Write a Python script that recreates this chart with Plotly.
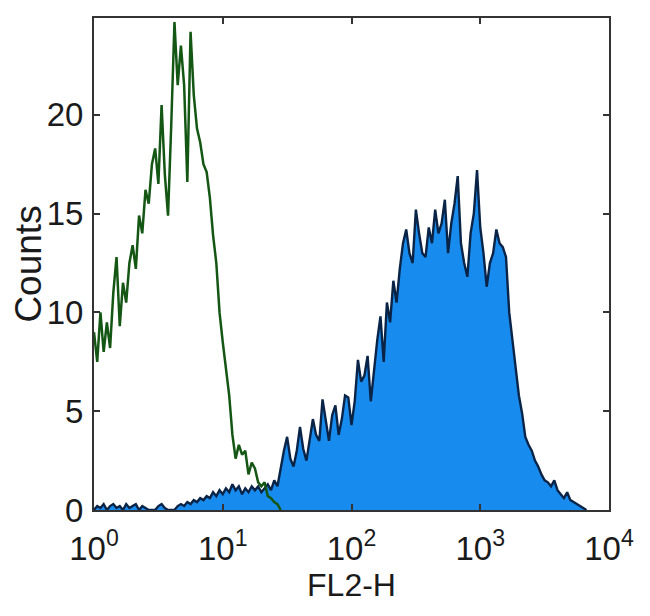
import numpy as np
import plotly.graph_objects as go

# Channel grid: log10(FL2-H) bin positions, 0.025 decade per channel
bin_step = 0.025

# Isotype / control histogram (green, unfilled)
green_counts = [
    9, 7.5, 10, 8, 9.5, 8.2, 11, 12.8, 9.3, 11.5,
    10.5, 12.5, 13.4, 12.2, 14.9, 14, 16.2, 15.5, 17.5, 18.3,
    16.5, 20.5, 17, 14.9, 19.5, 24.7, 21.5, 23.5, 21.5, 16.6,
    24.2, 21, 19.3, 18.6, 17.5, 17.1, 15.8, 13.9, 12.5, 10,
    8.5, 7.2, 5.8, 3.8, 2.6, 3.3, 2.8, 3.0, 1.8, 2.4,
    2.1, 1.4, 1.2, 1.4, 0.7, 0.6, 0.4, 0.3, 0,
]

# Stained sample histogram (blue, filled)
blue_counts = [
    0, 0.2, 0.1, 0.3, 0, 0.2, 0.3, 0.1, 0.2, 0,
    0.3, 0.1, 0.2, 0.3, 0, 0.2, 0.1, 0, 0, 0,
    0.2, 0.3, 0.1, 0, 0, 0, 0.2, 0.3, 0.2, 0.4,
    0.3, 0.5, 0.4, 0.6, 0.5, 0.7, 0.6, 0.9, 0.7, 1.0,
    0.8, 1.1, 0.9, 1.3, 1.0, 1.2, 0.8, 1.1, 0.9, 1.2,
    1.0, 1.2, 0.9, 1.1, 1.3, 1.0, 1.5, 1.2, 2.2, 3.0,
    3.7, 2.6, 2.2, 3.0, 4.2, 3.1, 2.5, 3.6, 4.6, 3.8,
    3.5, 5.6, 4.5, 3.5, 4.8, 5.3, 3.8, 4.6, 5.8, 5.7,
    4.3, 5.5, 7.6, 6.5, 6.8, 7.8, 5.5, 7.2, 8.6, 9.8,
    7.5, 10.5, 9.5, 11.6, 10.5, 12.2, 13.5, 14.2, 13, 12.5,
    15.2, 14, 13, 12.8, 14.3, 13.5, 15.2, 14, 14.5, 15.7,
    13, 14.5, 15.5, 16.9, 13.5, 12.5, 11.8, 14, 15, 17.2,
    14.3, 13, 11.3, 12.5, 13, 14.2, 13.5, 13.3, 12.8, 10,
    8.6, 6.9, 5.8, 4.9, 3.7, 3.3, 3.0, 2.5, 2.2, 1.8,
    1.5, 1.4, 1.2, 1.5, 1.0, 0.8, 0.6, 0.9, 0.5, 0.4,
    0.3, 0.2, 0.1, 0,
]

x_tick_vals = [1, 10, 100, 1000, 10000]
x_tick_text = ["10<sup>0</sup>", "10<sup>1</sup>", "10<sup>2</sup>", "10<sup>3</sup>", "10<sup>4</sup>"]
y_tick_vals = [0, 5, 10, 15, 20]

green_x = 10 ** (np.arange(len(green_counts)) * bin_step)
blue_x = 10 ** (np.arange(len(blue_counts)) * bin_step)

fig = go.Figure()
fig.add_trace(go.Scatter(
    x=blue_x, y=blue_counts, mode="lines",
    fill="tozeroy", fillcolor="rgb(24,140,238)",
    line=dict(color="rgb(10,36,72)", width=2.4),
    showlegend=False, hoverinfo="skip",
))
fig.add_trace(go.Scatter(
    x=green_x, y=green_counts, mode="lines",
    line=dict(color="rgb(20,86,20)", width=2.5),
    showlegend=False, hoverinfo="skip",
))

font_family = "Liberation Sans, Arial, sans-serif"
# page body adds an 8px offset, so the figure is sized to 642x608
fig.update_layout(
    width=642, height=608,
    margin=dict(l=86, r=41, t=10, b=106),
    paper_bgcolor="white", plot_bgcolor="white",
    font=dict(family=font_family, color="#1a1a1a", size=33),
)
fig.update_xaxes(
    type="log", range=[0, 4], automargin=False,
    tickmode="array", tickvals=x_tick_vals, ticktext=x_tick_text,
    ticks="inside", ticklen=6, tickwidth=1.5, tickcolor="#333",
    showline=True, linecolor="#333", linewidth=2, mirror="ticks",
    showgrid=False, zeroline=False,
    tickfont=dict(size=33), ticklabelstandoff=8,
    title=dict(text="FL2-H", font=dict(size=32), standoff=0),
)
fig.update_yaxes(
    range=[0, 24.9], automargin=False,
    tickmode="array", tickvals=y_tick_vals,
    ticks="inside", ticklen=6, tickwidth=1.5, tickcolor="#333",
    showline=True, linecolor="#333", linewidth=2, mirror="ticks",
    showgrid=False, zeroline=False,
    tickfont=dict(size=33), ticklabelstandoff=2,
    title=dict(text="Counts", font=dict(size=37), standoff=0),
)

fig.write_html("out.html")
